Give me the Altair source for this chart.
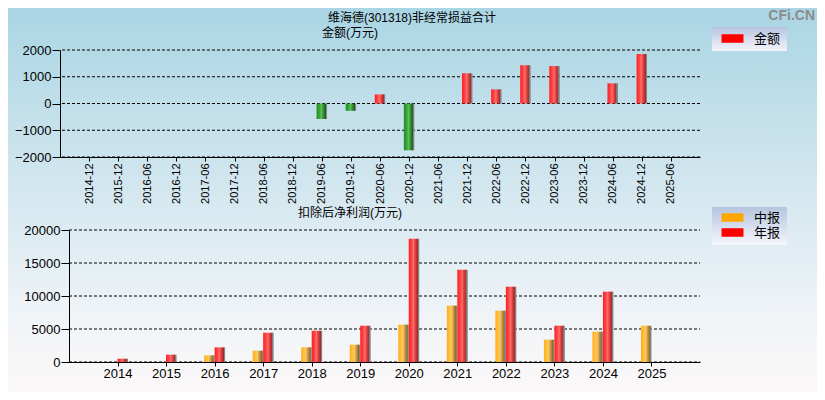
import altair as alt
import pandas as pd

# ---------------- data ----------------
periods = ["2014-12", "2015-12", "2016-06", "2016-12", "2017-06", "2017-12", "2018-06",
           "2018-12", "2019-06", "2019-12", "2020-06", "2020-12", "2021-06", "2021-12",
           "2022-06", "2022-12", "2023-06", "2023-12", "2024-06", "2024-12", "2025-06"]
amounts = [None, None, None, None, None, None, None,
           None, -580, -275, 340, -1750, None, 1130,
           530, 1430, 1400, None, 755, 1850, None]

years = ["2014", "2015", "2016", "2017", "2018", "2019", "2020", "2021", "2022", "2023", "2024", "2025"]
interim = [None, None, 1010, 1720, 2220, 2630, 5660, 8540, 7780, 3380, 4600, 5500]
annual = [500, 1110, 2220, 4440, 4750, 5500, 18690, 13990, 11410, 5500, 10660, None]

top_ticks = [-2000, -1000, 0, 1000, 2000]
bottom_ticks = [0, 5000, 10000, 15000, 20000]

main_title = "维海德(301318)非经常损益合计"
top_unit = "金额(万元)"
bottom_unit = "扣除后净利润(万元)"
top_series = ["金额"]
bottom_series = ["中报", "年报"]

FONT = "Liberation Sans, Noto Sans CJK SC"


def grad(stops, vertical=False):
    return alt.LinearGradient(
        gradient="linear",
        stops=[alt.GradientStop(color=c, offset=o) for o, c in stops],
        x1=0, y1=0, x2=0 if vertical else 1, y2=1 if vertical else 0,
    )


red_grad = grad([(0, "#ff1e1e"), (0.3, "#ff4848"), (0.45, "#ff6e6e"), (0.6, "#e04545"),
                 (0.85, "#a82828"), (0.86, "#7a7a7a"), (1, "#8e8e8e")])
green_grad = grad([(0, "#1f8f1f"), (0.3, "#3aa83a"), (0.45, "#5cc05c"), (0.6, "#3a9a3a"),
                   (0.85, "#1e5e1e"), (0.86, "#7a7a7a"), (1, "#8e8e8e")])
orange_grad = grad([(0, "#ffae1e"), (0.3, "#ffc040"), (0.45, "#f8c868"), (0.6, "#d8a040"),
                    (0.85, "#8e6a28"), (0.86, "#7a7a7a"), (1, "#8e8e8e")])
bg_grad = grad([(0, "#aad5e4"), (0.5, "#d6e8f0"), (0.78, "#eef3f7"), (1, "#fcf8f8")], vertical=True)
box_grad = grad([(0, "#b6c5df"), (1, "#f5f5fb")], vertical=True)

one = pd.DataFrame({"k": [0]})

# ---------------- top panel ----------------
top_df = pd.DataFrame({"period": periods, "amount": amounts}).dropna()
x_top = alt.X("period:N", scale=alt.Scale(type="point", domain=periods, padding=1),
              axis=alt.Axis(labelAngle=270, labelFontSize=11, labelFont="Liberation Sans",
                            labelColor="black", tickColor="black", domainColor="black",
                            tickSize=4, labelPadding=2, title=None, grid=False,
                            labelOverlap=False, zindex=1))
y_scale_top = alt.Scale(domain=[-2000, 2000], nice=False)
y_axis_top = alt.Axis(values=top_ticks, format="d", tickSize=8, labelFontSize=13,
                      labelFont="Liberation Sans", labelColor="black", labelPadding=1,
                      tickColor="black", domainColor="black", title=None, grid=False,
                      labelOverlap=False, tickCount=5, zindex=1)
y_top = alt.Y("amount:Q", scale=y_scale_top, axis=y_axis_top)

bg = alt.Chart(one).mark_rect(fill=bg_grad).encode(
    x=alt.value(-52), x2=alt.value(757), y=alt.value(-42), y2=alt.value(342))

grid_top = alt.Chart(pd.DataFrame({"v": top_ticks})).mark_rule(
    color="black", strokeDash=[3, 2], strokeWidth=1).encode(
    y=alt.Y("v:Q", scale=y_scale_top, axis=y_axis_top))

pos_bars = alt.Chart(top_df).transform_filter("datum.amount >= 0").mark_bar(
    size=10.5, fill=red_grad).encode(x=x_top, y=y_top)
neg_bars = alt.Chart(top_df).transform_filter("datum.amount < 0").mark_bar(
    size=10.5, fill=green_grad).encode(x=x_top, y=y_top)

box_top = alt.Chart(one).mark_rect(fill=box_grad).encode(
    x=alt.value(652), x2=alt.value(727), y=alt.value(-23), y2=alt.value(1))

legend_common = dict(orient="none", title=None, symbolType="M-1.83,-0.71L1.83,-0.71L1.83,0.71L-1.83,0.71Z",
                     symbolSize=144, symbolOffset=5, labelOffset=15, labelFontSize=13,
                     labelFont=FONT, labelColor="black", padding=0, rowPadding=1,
                     symbolStrokeWidth=0, symbolOpacity=1)

leg_top = alt.Chart(pd.DataFrame({"series": top_series})).transform_filter("false").mark_square().encode(
    color=alt.Color("series:N", scale=alt.Scale(domain=top_series, range=["#ff0000"]),
                    legend=alt.Legend(legendX=661, legendY=-18, **legend_common)))

t_main = alt.Chart(one).mark_text(font=FONT, fontSize=12, color="black").encode(
    x=alt.value(352), y=alt.value(-32), text=alt.value(main_title))
t_unit = alt.Chart(one).mark_text(font=FONT, fontSize=12, color="black").encode(
    x=alt.value(290), y=alt.value(-17.5), text=alt.value(top_unit))
t_mark = alt.Chart(one).mark_text(font="Liberation Sans", fontSize=14, fontWeight="bold",
                                  color="#8c8c8c", align="right").encode(
    x=alt.value(755), y=alt.value(-34), text=alt.value("CFi.CN"))

top = alt.layer(bg, grid_top, pos_bars, neg_bars, box_top, leg_top, t_main, t_unit, t_mark).properties(
    width=640, height=107)

# ---------------- bottom panel ----------------
rows = []
for yv, a, b in zip(years, interim, annual):
    if a is not None:
        rows.append({"year": yv, "kind": "中报", "value": a})
    if b is not None:
        rows.append({"year": yv, "kind": "年报", "value": b})
bot_df = pd.DataFrame(rows)

x_bot = alt.X("year:N", scale=alt.Scale(type="point", domain=years, padding=1, range=[9, 640]),
              axis=alt.Axis(labelAngle=0, labelFontSize=13, labelFont="Liberation Sans",
                            labelColor="black", tickColor="black", domainColor="black",
                            tickSize=4, labelPadding=1, title=None, grid=False, labelOverlap=False))
y_scale_bot = alt.Scale(domain=[0, 20000], nice=False)
y_axis_bot = alt.Axis(values=bottom_ticks, format="d", tickSize=8, labelFontSize=13,
                      labelFont="Liberation Sans", labelColor="black", labelPadding=1,
                      tickColor="black", domainColor="black", title=None, grid=False,
                      labelOverlap=False, tickCount=5, offset=-9)
y_bot = alt.Y("value:Q", scale=y_scale_bot, axis=y_axis_bot)

grid_bot = alt.Chart(pd.DataFrame({"v": bottom_ticks})).mark_rule(
    color="black", strokeDash=[3, 2], strokeWidth=1).encode(
    y=alt.Y("v:Q", scale=y_scale_bot, axis=y_axis_bot), x=alt.value(9), x2=alt.value(640))

int_bars = alt.Chart(bot_df).transform_filter("datum.kind == '中报'").mark_bar(
    size=10.5, xOffset=-5.25, fill=orange_grad).encode(x=x_bot, y=y_bot)
ann_bars = alt.Chart(bot_df).transform_filter("datum.kind == '年报'").mark_bar(
    size=10.5, xOffset=5.25, fill=red_grad).encode(x=x_bot, y=y_bot)

box_bot = alt.Chart(one).mark_rect(fill=box_grad).encode(
    x=alt.value(652), x2=alt.value(727), y=alt.value(-23), y2=alt.value(15))

leg_bot = alt.Chart(pd.DataFrame({"kind": bottom_series})).transform_filter("false").mark_square().encode(
    color=alt.Color("kind:N", scale=alt.Scale(domain=bottom_series, range=["#ffa500", "#ff0000"]),
                    legend=alt.Legend(legendX=661, legendY=-19, **legend_common)))

t_bot = alt.Chart(one).mark_text(font=FONT, fontSize=12, color="black").encode(
    x=alt.value(290), y=alt.value(-17.5), text=alt.value(bottom_unit))

bottom = alt.layer(grid_bot, int_bars, ann_bars, box_bot, leg_bot, t_bot).properties(
    width=640, height=132)

chart = alt.vconcat(top, bottom, spacing=73, bounds="flush").resolve_scale(
    color="independent", x="independent", y="independent").properties(
    padding=0, background="white").configure_view(stroke=None)

chart.save("out.html", embed_options={"renderer": "svg", "actions": False})
